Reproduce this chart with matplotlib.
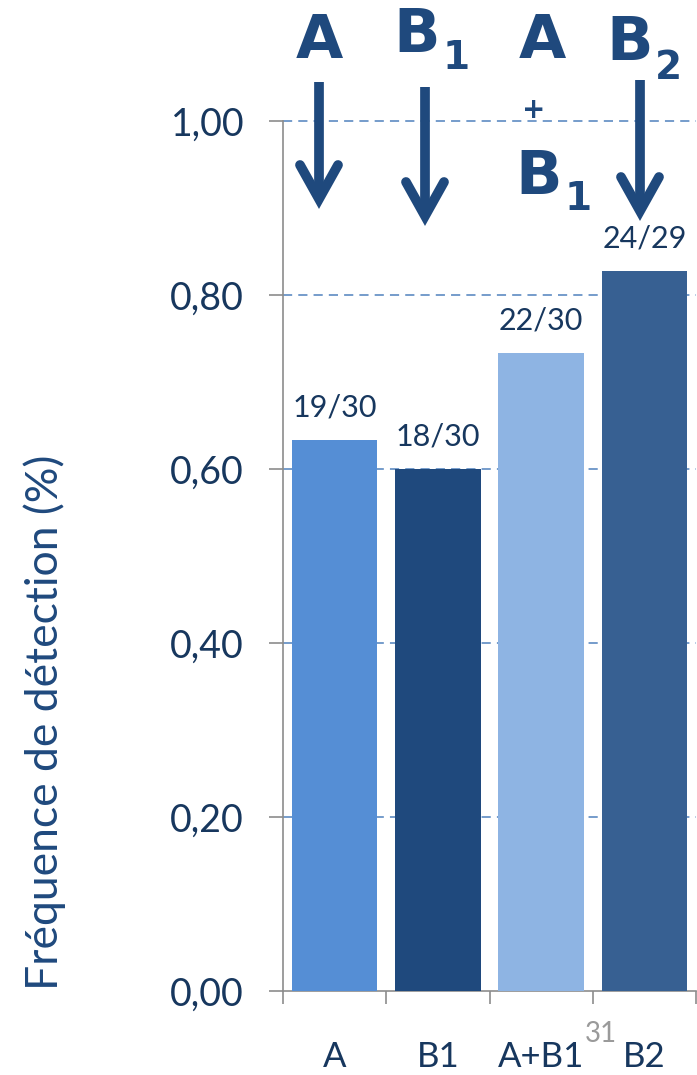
import matplotlib
matplotlib.use("Agg")
import matplotlib.pyplot as plt
from matplotlib.ticker import MultipleLocator, FixedLocator, FuncFormatter

# detection counts per condition
categories = ["A", "B1", "A+B1", "B2"]
detected = [19, 18, 22, 24]
totals = [30, 30, 30, 29]
freq = [d / t for d, t in zip(detected, totals)]
bar_colors = ["#558ed5", "#1f497d", "#8eb4e3", "#376092"]

NAVY = "#17375e"
BLUE = "#1f497d"
FONT = "Lato"

fig = plt.figure(figsize=(6.97, 10.75), dpi=100)
ax = fig.add_axes([283 / 697, 1 - 991 / 1075, 413 / 697, 870 / 1075])

x = range(len(categories))
ax.bar(x, freq, width=0.83, color=bar_colors, zorder=3)

for i, (d, t, f) in enumerate(zip(detected, totals, freq)):
    ax.annotate(f"{d}/{t}", (i, f), xytext=(0, 13), textcoords="offset points",
                ha="center", va="bottom", fontsize=22, color=NAVY, family=FONT)

ax.set_xlim(-0.5, len(categories) - 0.5)
ax.set_ylim(0, 1.0)
ax.yaxis.set_major_locator(MultipleLocator(0.2))
ax.yaxis.set_major_formatter(FuncFormatter(lambda v, p: f"{v:.2f}".replace(".", ",")))
for v in [0.2, 0.4, 0.6, 0.8, 1.0]:
    ax.axhline(v, color="#4f81bd", lw=1.1, ls=(0, (6, 4)), zorder=1, clip_on=False)

ax.set_xticks(list(x))
ax.set_xticklabels(categories)
ax.xaxis.set_minor_locator(FixedLocator([-0.5, 0.5, 1.5, 2.5, 3.5]))
ax.tick_params(axis="x", which="major", length=0, pad=36, labelsize=25, labelcolor=NAVY)
ax.tick_params(axis="x", which="minor", length=9, width=1.2, color="#8c8c8c")
ax.tick_params(axis="y", length=10, width=1.2, color="#8c8c8c", pad=18,
               labelsize=27, labelcolor=NAVY)
for lab in ax.get_xticklabels() + ax.get_yticklabels():
    lab.set_family(FONT)

for s in ["top", "right"]:
    ax.spines[s].set_visible(False)
for s in ["left", "bottom"]:
    ax.spines[s].set_color("#8c8c8c")
    ax.spines[s].set_linewidth(1.2)

fig.text(45 / 697, 1 - 722 / 1075, "Fréquence de détection (%)", rotation=90,
         ha="center", va="center", fontsize=32, color=BLUE, family=FONT)

# page number
fig.text(601 / 697, 1 - 1034 / 1075, "31", ha="center", va="center",
         fontsize=20, color="#9a9a9a", family=FONT)

# hand-drawn style labels and arrows above the bars
over = fig.add_axes([0, 0, 1, 1], facecolor="none")
over.set_xlim(0, 697)
over.set_ylim(1075, 0)
over.axis("off")

hand = dict(color=BLUE, family="DejaVu Sans", fontweight="bold", va="center")
over.text(319, 42, "A", fontsize=44, ha="center", **hand)
over.text(440, 36, "B", fontsize=44, ha="right", **hand)
over.text(443, 58, "1", fontsize=28, ha="left", **hand)
over.text(542, 42, "A", fontsize=44, ha="center", **hand)
over.text(534, 110, "+", fontsize=20, ha="center", **hand)
over.text(562, 177, "B", fontsize=44, ha="right", **hand)
over.text(565, 199, "1", fontsize=28, ha="left", **hand)
over.text(653, 43, "B", fontsize=44, ha="right", **hand)
over.text(655, 68, "2", fontsize=28, ha="left", **hand)

arrows = [(319, 82, 199), (425, 87, 216), (640, 80, 211)]
for ax_x, y0, y1 in arrows:
    over.plot([ax_x, ax_x], [y0, y1], color=BLUE, lw=7, solid_capstyle="butt")
    over.plot([ax_x - 19, ax_x, ax_x + 19], [y1 - 34, y1, y1 - 34], color=BLUE, lw=7,
              solid_capstyle="round", solid_joinstyle="miter")

fig.savefig("out.png", dpi=100)
